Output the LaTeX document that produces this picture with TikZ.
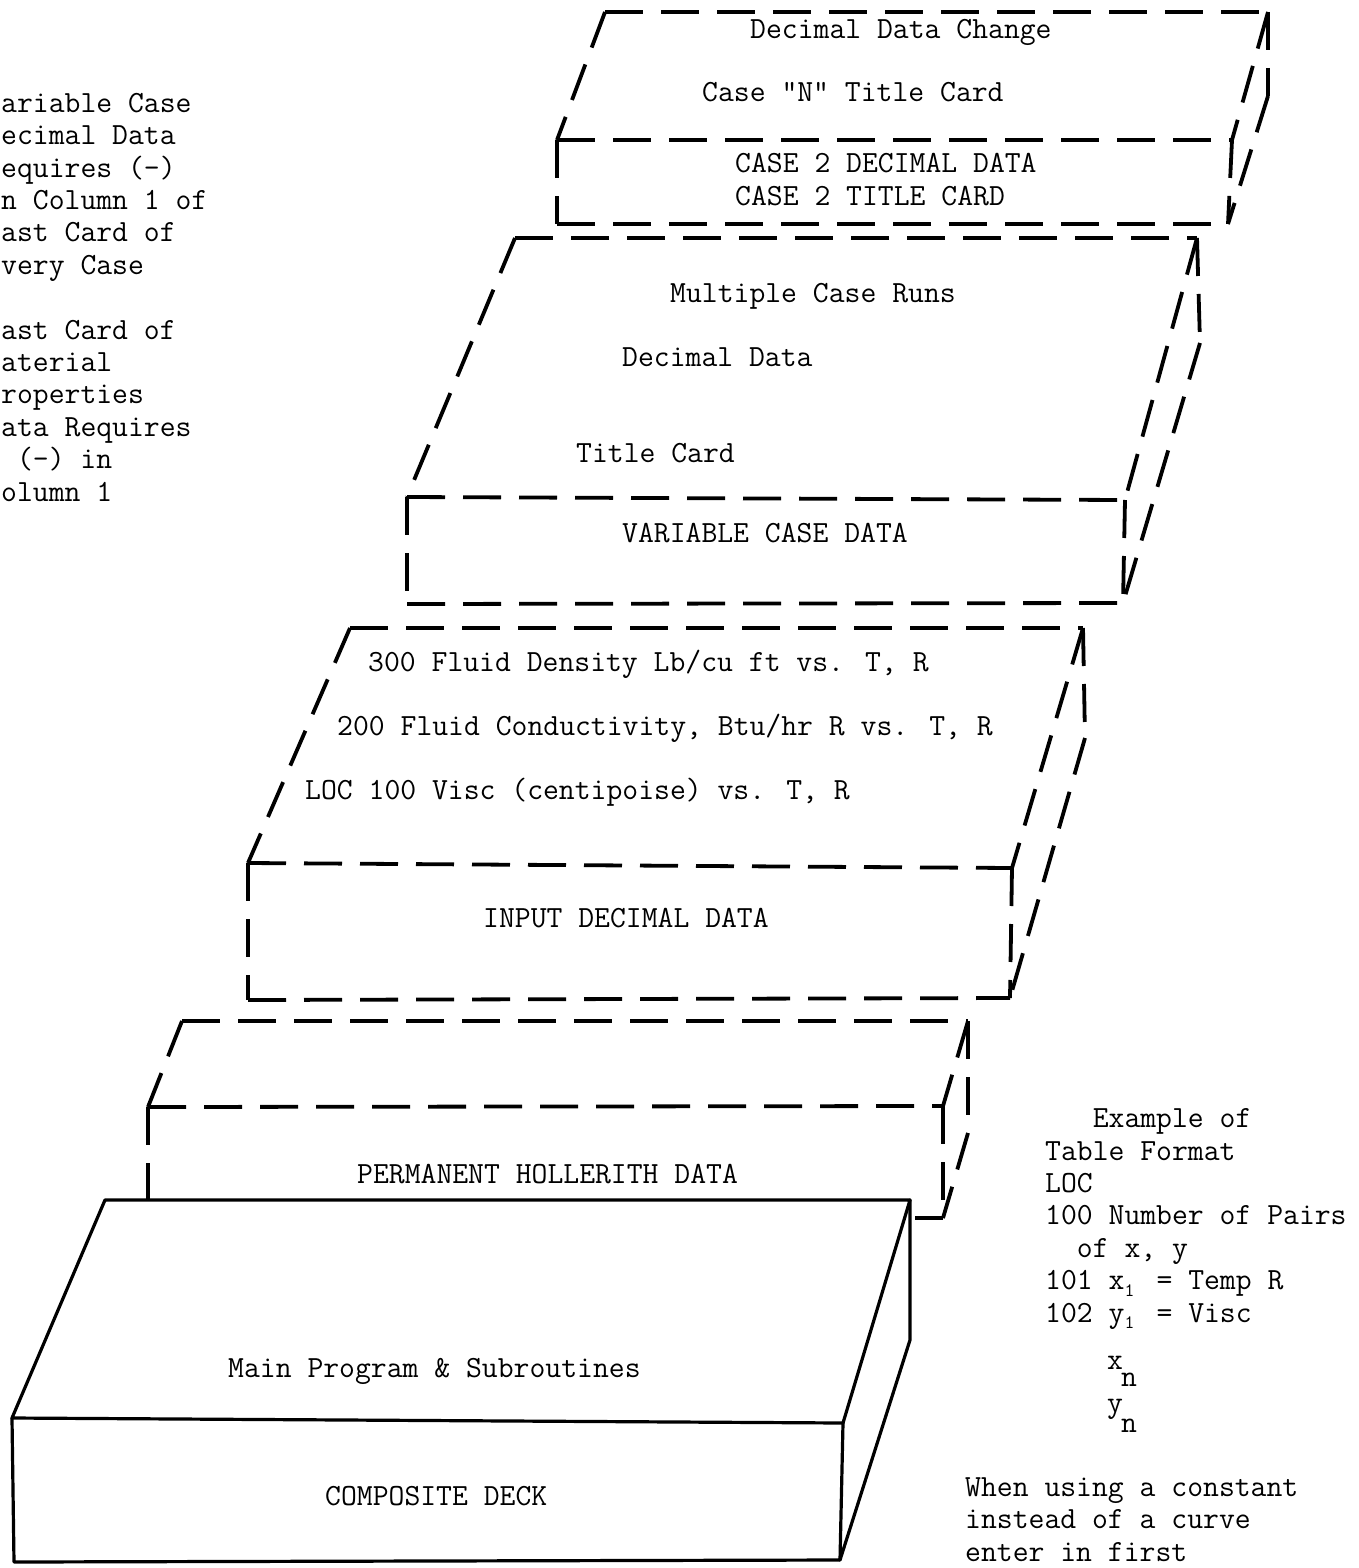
\documentclass[tikz,border=0pt]{standalone}
\usepackage{fontspec}
\newcommand\tw{\ttfamily\addfontfeatures{FakeBold=1.2}}
\newcommand\subone{\makebox[0.525em][l]{\raisebox{-0.22em}{\fontsize{19}{19}\selectfont 1}}}
\begin{document}
\begin{tikzpicture}[x=1pt,y=-1pt,
  dsh/.style={line width=3.8pt, dash pattern=on 38pt off 18pt, line cap=butt},
  sol/.style={line width=3.2pt, line cap=round, line join=round},
  txt/.style={font=\tw\fontsize{30.8}{32.4}\selectfont, inner sep=0pt, anchor=base west},
  note/.style={txt, align=left}]
\useasboundingbox (0,0) rectangle (1359,1568);

% ---------- Box 1 ----------
\coordinate (a1) at (605,12);
\coordinate (b1) at (1268,12);
\coordinate (c1) at (1232,140);
\coordinate (d1) at (557,140);
\coordinate (e1) at (557,224);
\coordinate (f1) at (1228,224);
\coordinate (g1) at (1268,96);
\draw[dsh] (a1) -- (b1);
\draw[dsh] (a1) -- (d1);
\draw[dsh] (d1) -- (c1);
\draw[dsh] (b1) -- (c1);
\draw[dsh] (d1) -- (e1);
\draw[dsh] (e1) -- (f1);
\draw[dsh] (c1) -- (f1);
\draw[dsh] (b1) -- (g1);
\draw[dsh] (g1) -- (f1);

% ---------- Box 2 ----------
\coordinate (a2) at (515,238);
\coordinate (b2) at (1197,238);
\coordinate (c2) at (1125,500);
\coordinate (d2) at (407,497);
\coordinate (e2) at (407,604);
\coordinate (f2) at (1123,603);
\coordinate (g2) at (1200,343);
\draw[dsh] (a2) -- (b2);
\draw[dsh] (a2) -- (d2);
\draw[dsh] (d2) -- (c2);
\draw[dsh] (b2) -- (c2);
\draw[dsh] (d2) -- (e2);
\draw[dsh] (e2) -- (f2);
\draw[dsh] (c2) -- (f2);
\draw[dsh] (b2) -- (g2);
\draw[dsh] (g2) -- (f2);

% ---------- Box 3 ----------
\coordinate (a3) at (350,628);
\coordinate (b3) at (1083,628);
\coordinate (c3) at (1012,868);
\coordinate (d3) at (248,863);
\coordinate (e3) at (248,1000);
\coordinate (f3) at (1010,998);
\coordinate (g3) at (1085,738);
\draw[dsh] (a3) -- (b3);
\draw[dsh] (a3) -- (d3);
\draw[dsh] (d3) -- (c3);
\draw[dsh] (b3) -- (c3);
\draw[dsh] (d3) -- (e3);
\draw[dsh] (e3) -- (f3);
\draw[dsh] (c3) -- (f3);
\draw[dsh] (b3) -- (g3);
\draw[dsh] (g3) -- (f3);

% ---------- Box 4 ----------
\coordinate (a4) at (182,1021);
\coordinate (b4) at (968,1021);
\coordinate (c4) at (943,1106);
\coordinate (d4) at (148,1107);
\coordinate (e4) at (148,1218);
\coordinate (f4) at (943,1218);
\coordinate (g4) at (968,1133);
\coordinate (h4) at (915,1218);
\draw[dsh] (a4) -- (b4);
\draw[dsh] (a4) -- (d4);
\draw[dsh] (d4) -- (c4);
\draw[dsh] (b4) -- (c4);
\draw[dsh] (d4) -- (e4);
\draw[dsh] (c4) -- (f4);
\draw[dsh] (b4) -- (g4);
\draw[dsh] (g4) -- (f4);
\draw[line width=3.8pt] (h4) -- (f4);

% ---------- Box 5 (solid) ----------
\coordinate (a5) at (105,1200);
\coordinate (b5) at (910,1200);
\coordinate (c5) at (843,1423);
\coordinate (d5) at (12,1418);
\coordinate (e5) at (14,1562);
\coordinate (f5) at (840,1560);
\coordinate (g5) at (910,1340);
\fill[white] (a5) -- (b5) -- (g5) -- (f5) -- (e5) -- (d5) -- cycle;
\draw[sol] (a5) -- (b5) -- (c5) -- (d5) -- cycle;
\draw[sol] (d5) -- (e5) -- (f5) -- (c5);
\draw[sol] (b5) -- (g5) -- (f5);

% ---------- Box texts ----------
\node[txt] (t11) at (750,39) {Decimal Data Change};
\node[txt] (t12) at (702,102) {Case "N" Title Card};
\node[txt] (t13) at (735,172) {CASE 2 DECIMAL DATA};
\node[txt] (t14) at (735,205) {CASE 2 TITLE CARD};

\node[txt] (t21) at (670,302) {Multiple Case Runs};
\node[txt] (t22) at (622,366) {Decimal Data};
\node[txt] (t23) at (576,462) {Title Card};
\node[txt] (t24) at (622,542) {VARIABLE CASE DATA};

\node[txt] (t31) at (368,671) {300 Fluid Density Lb/cu ft vs. T, R};
\node[txt] (t32) at (337,735) {200 Fluid Conductivity, Btu/hr R vs. T, R};
\node[txt] (t33) at (305,799) {LOC 100 Visc (centipoise) vs. T, R};
\node[txt] (t34) at (483,927) {INPUT DECIMAL DATA};

\node[txt] (t41) at (357,1183) {PERMANENT HOLLERITH DATA};

\node[txt] (t51) at (228,1377) {Main Program \& Subroutines};
\node[txt] (t52) at (325,1505) {COMPOSITE DECK};

% ---------- Left note (anchor = baseline of last line) ----------
\node[note] (left) at (1,501) {ariable Case\\ecimal Data\\equires (-)\\n Column 1 of\\ast Card of\\very Case\\[32.4pt]ast Card of\\aterial\\roperties\\ata Requires\\\hphantom{0}(-) in\\olumn 1};

% ---------- Right note ----------
\node[note] (right) at (1045,1322) {\hphantom{000}Example of\\Table Format\\LOC\\100 Number of Pairs\\\hphantom{00}of x, y\\101 x\subone{} = Temp R\\102 y\subone{} = Visc};
\node[txt] (xn) at (1107,1369) {x};
\node[txt] (xs) at (1121,1386) {n};
\node[txt] (yn) at (1107,1412) {y};
\node[txt] (ys) at (1121,1432) {n};
\node[note] (when) at (965,1561) {When using a constant\\instead of a curve\\enter in first};
\end{tikzpicture}
\end{document}
